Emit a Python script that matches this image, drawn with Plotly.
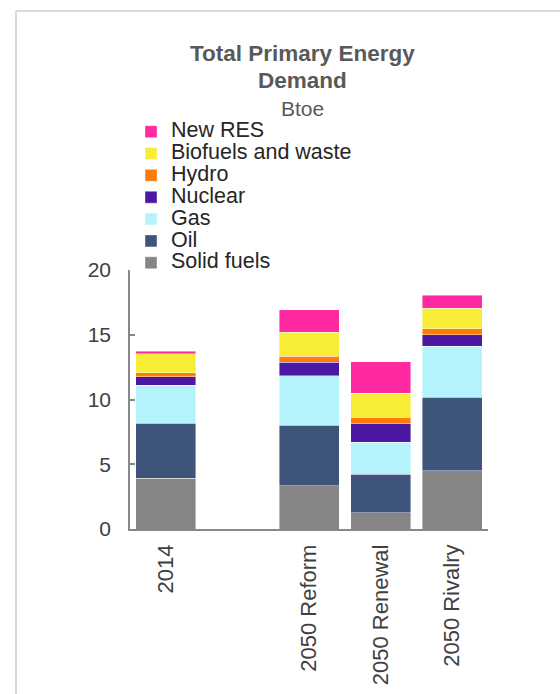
import plotly.graph_objects as go

# Scenario categories (one blank slot separates the base year from 2050)
categories = ["2014", " ", "2050 Reform", "2050 Renewal", "2050 Rivalry"]

# Primary energy demand by fuel, Btoe
solid_fuels = [3.92, None, 3.33, 1.26, 4.49]
oil = [4.26, None, 4.69, 2.97, 5.70]
gas = [2.91, None, 3.82, 2.45, 3.91]
nuclear = [0.65, None, 1.03, 1.47, 0.91]
hydro = [0.31, None, 0.46, 0.49, 0.46]
biofuels_waste = [1.47, None, 1.86, 1.86, 1.57]
new_res = [0.20, None, 1.75, 2.42, 1.01]

series_names = ["Solid fuels", "Oil", "Gas", "Nuclear", "Hydro",
                "Biofuels and waste", "New RES"]
series_values = [solid_fuels, oil, gas, nuclear, hydro, biofuels_waste, new_res]
series_colors = ["#858585", "#3f547b", "#b4f3fb", "#4b18a3", "#ff7c0a",
                 "#f7ec36", "#ff2aa1"]

y_ticks = [0, 5, 10, 15, 20]

# Plot-area geometry in pixels
W, H = 560, 694
L, R, T, B = 130, 488, 270, 529


def px_x(x):
    return (x - L) / (R - L)


def px_y(y):
    return (B - y) / (B - T)


fig = go.Figure()
for name, vals, col in zip(series_names, series_values, series_colors):
    fig.add_trace(go.Bar(
        x=categories, y=vals, name=f'<span style="font-size:21.5px">{name}</span>',
        marker=dict(color=col, line=dict(color="rgba(255,255,255,0.7)", width=0.6)),
        hovertemplate=name + ": %{y}<extra></extra>",
    ))

axis_grey = "#888888"

fig.update_layout(
    width=W, height=H,
    margin=dict(l=L, r=W - R, t=T, b=H - B, pad=0, autoexpand=False),
    paper_bgcolor="white", plot_bgcolor="white",
    barmode="stack", bargap=0.162,
    font=dict(family="Liberation Sans, Arial, sans-serif", color="#404040"),
    showlegend=True,
    legend=dict(
        x=px_x(131), y=px_y(115.7), xanchor="left", yanchor="top",
        traceorder="reversed", font=dict(size=14.5, color="#262626"),
        bgcolor="rgba(0,0,0,0)", borderwidth=0, tracegroupgap=0,
    ),
    xaxis=dict(
        type="category", categoryorder="array", categoryarray=categories,
        showline=True, linecolor=axis_grey, linewidth=1.5,
        ticks="", tickangle=-90, tickfont=dict(size=22, color="#404040"),
        ticklabelstandoff=5, showgrid=False, zeroline=False, fixedrange=True,
        automargin=False,
    ),
    yaxis=dict(
        range=[0, 20], tickvals=y_ticks,
        showline=True, linecolor=axis_grey, linewidth=1.5,
        ticks="inside", ticklen=5, tickwidth=1.5, tickcolor=axis_grey,
        tickfont=dict(size=21, color="#404040"), ticklabelstandoff=13,
        showgrid=False, zeroline=False, fixedrange=True, automargin=False,
    ),
)

# Chart title and unit
title_x = px_x(302)
fig.add_annotation(text="<b>Total Primary Energy</b>", x=title_x, y=px_y(54),
                   xref="paper", yref="paper", showarrow=False,
                   xanchor="center", yanchor="middle",
                   font=dict(size=22.5, color="#595959"))
fig.add_annotation(text="<b>Demand</b>", x=title_x, y=px_y(81),
                   xref="paper", yref="paper", showarrow=False,
                   xanchor="center", yanchor="middle",
                   font=dict(size=22.5, color="#595959"))
fig.add_annotation(text="Btoe", x=title_x, y=px_y(109),
                   xref="paper", yref="paper", showarrow=False,
                   xanchor="center", yanchor="middle",
                   font=dict(size=21, color="#595959"))

# Outer chart frame (top and left edges)
frame = dict(type="line", xref="paper", yref="paper",
             line=dict(color="#d9d9d9", width=2), layer="below")
fig.add_shape(**frame, x0=px_x(16), y0=px_y(11), x1=px_x(W + 5), y1=px_y(11))
fig.add_shape(**frame, x0=px_x(16), y0=px_y(11), x1=px_x(16), y1=px_y(H + 5))

fig.write_html("out.html")
